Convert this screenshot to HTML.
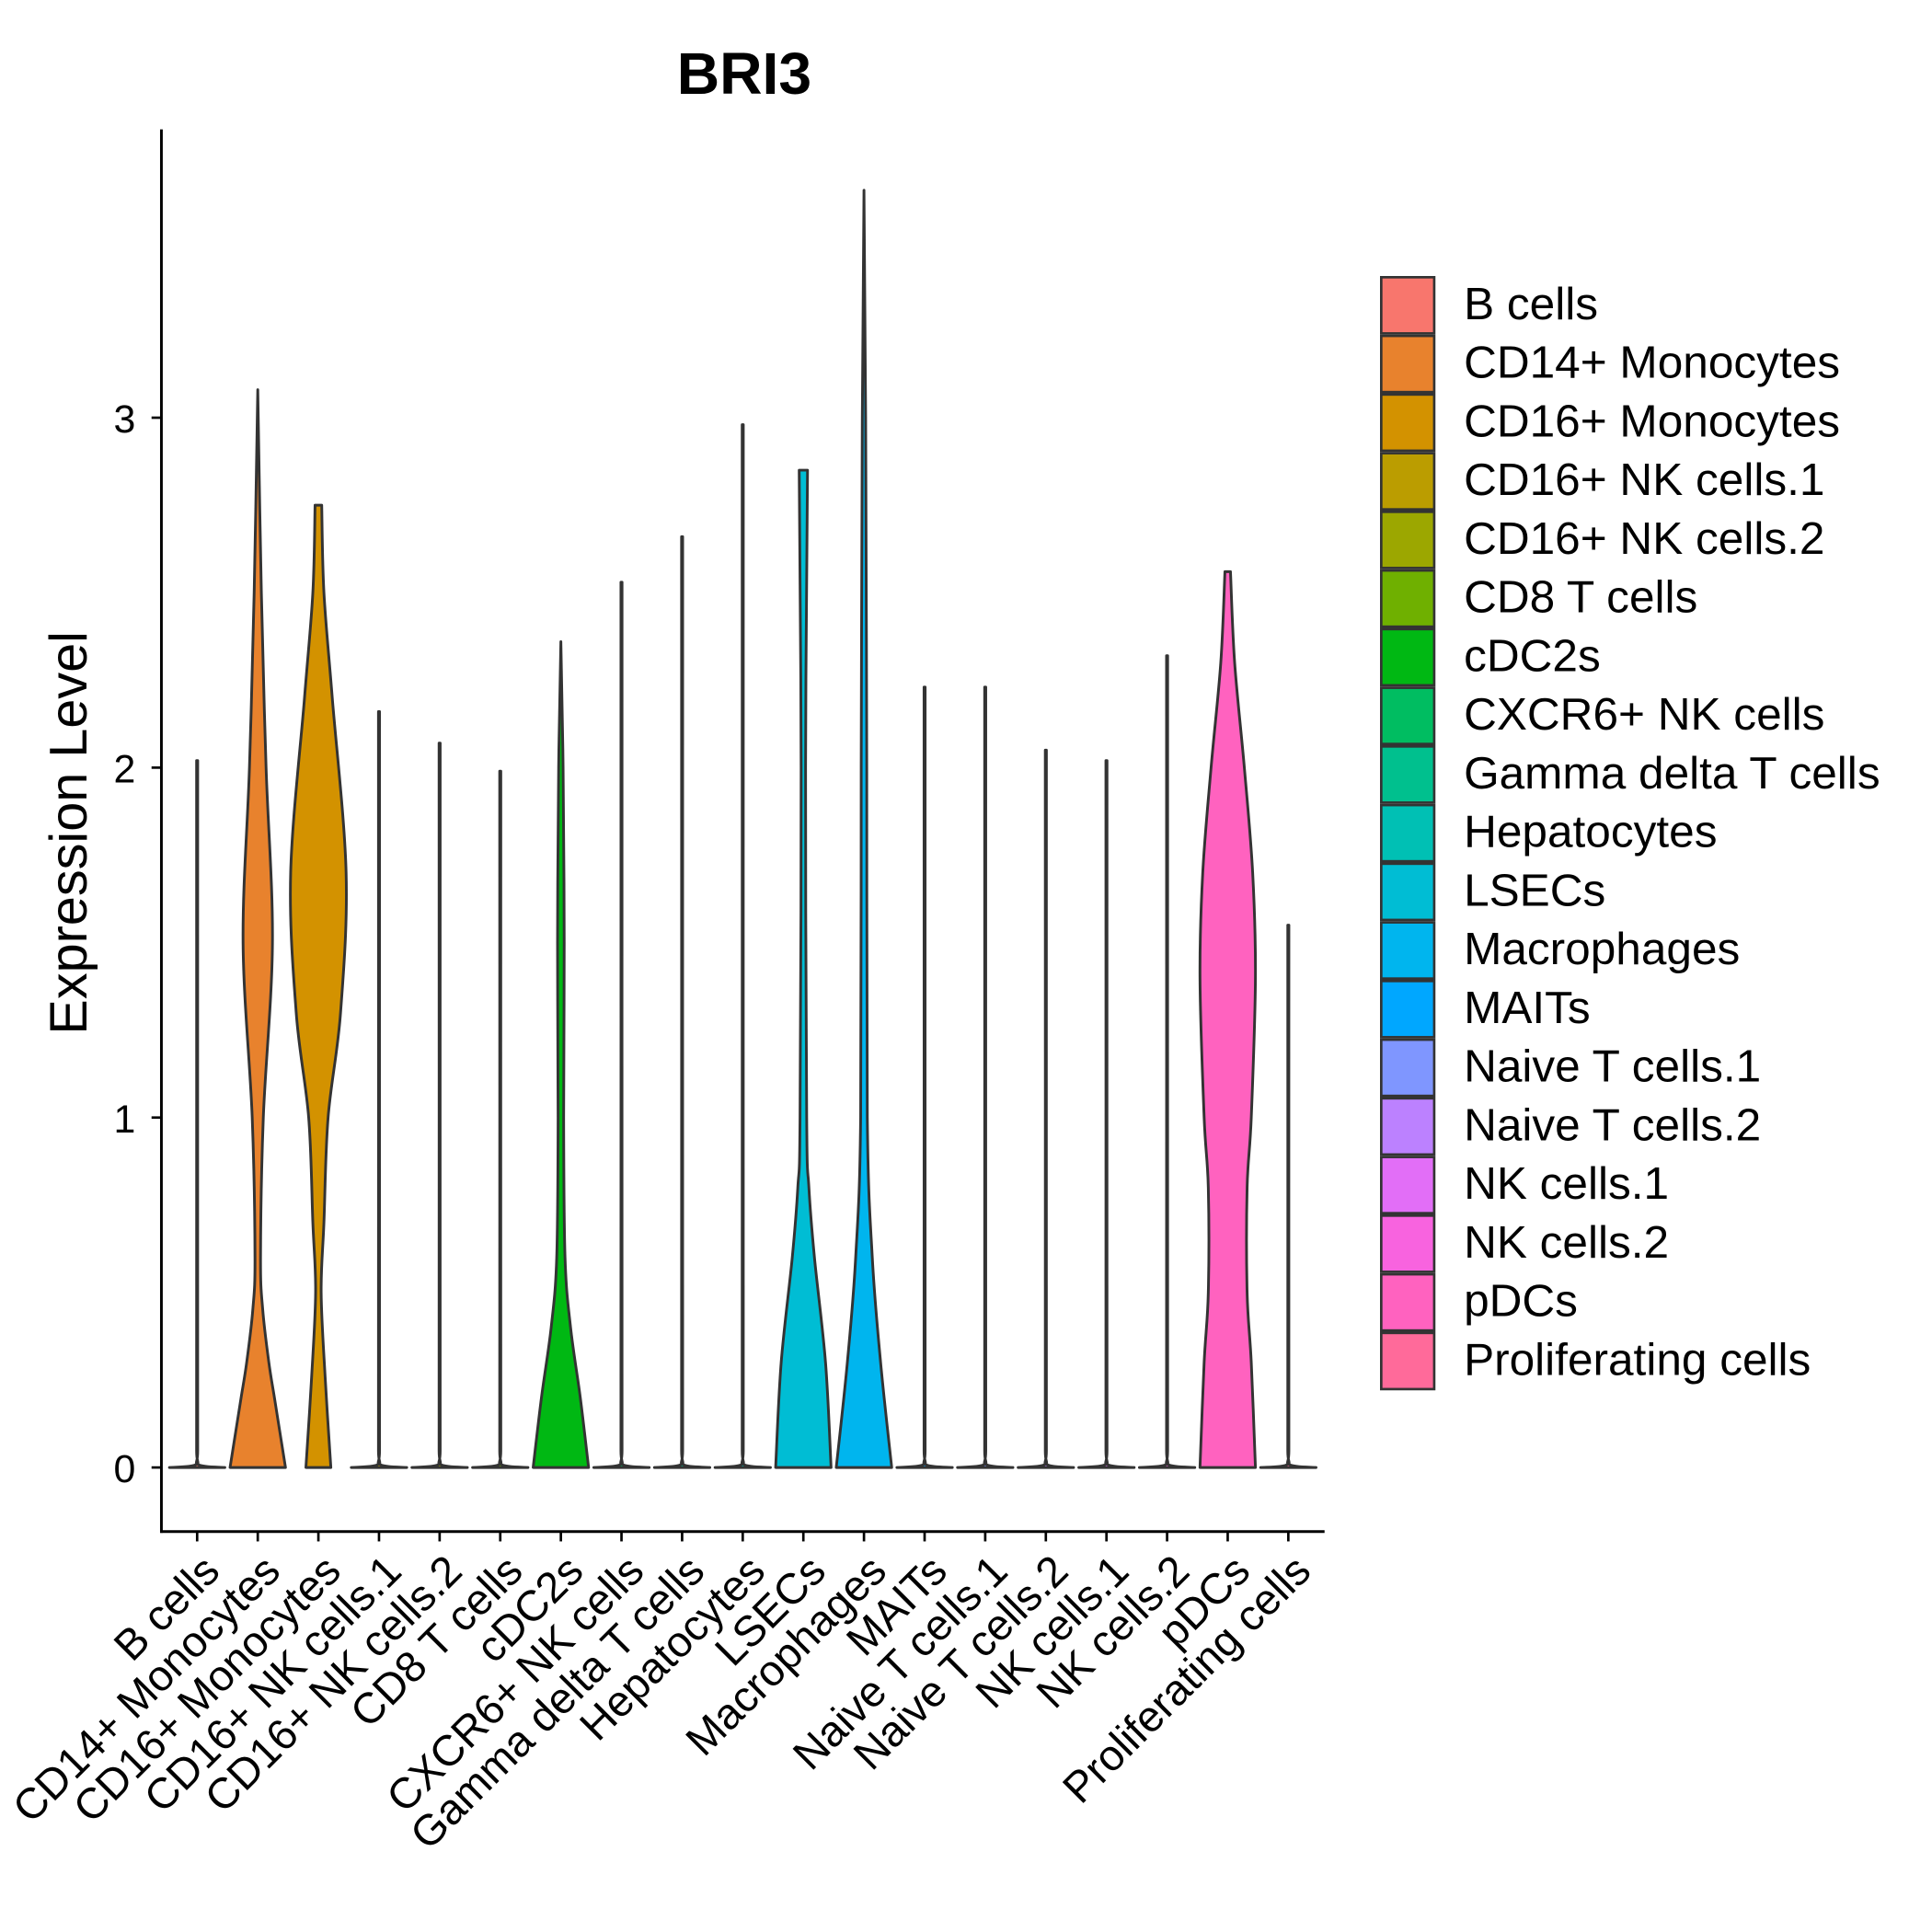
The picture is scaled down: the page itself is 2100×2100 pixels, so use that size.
<!DOCTYPE html>
<html><head><meta charset="utf-8"><style>
html,body{margin:0;padding:0;background:#fff}
svg{display:block;font-family:"Liberation Sans",Arial,sans-serif}
</style></head><body>
<svg id="chart" width="2100" height="2100" viewBox="0 0 1568 1568" xmlns="http://www.w3.org/2000/svg">
<text x="604" y="76" text-anchor="middle" font-size="48" font-weight="bold">BRI3</text>
<text transform="translate(70,676) rotate(-90)" text-anchor="middle" font-size="43">Expression Level</text>
<g id="plot"></g>
<g id="legend"></g>
</svg>
<script>
const categories=["B cells","CD14+ Monocytes","CD16+ Monocytes","CD16+ NK cells.1","CD16+ NK cells.2","CD8 T cells","cDC2s","CXCR6+ NK cells","Gamma delta T cells","Hepatocytes","LSECs","Macrophages","MAITs","Naive T cells.1","Naive T cells.2","NK cells.1","NK cells.2","pDCs","Proliferating cells"];
const colors=["#F8766D","#E8822D","#D39200","#BB9D00","#9CA700","#6FB000","#00B813","#00BD61","#00C08E","#00C0B4","#00BDD4","#00B5EE","#00A7FF","#7F96FF","#BC81FF","#E26EF7","#F863DF","#FF62BF","#FF6A9A"];
const maxValues=[2.02,3.08,2.75,2.16,2.07,1.99,2.36,2.53,2.66,2.98,2.85,3.65,2.23,2.23,2.05,2.02,2.32,2.56,1.55];
// density profiles: [value, relative half-width]
const profileMono14=[[0,1],[0.1,0.8],[0.2,0.6],[0.3,0.4],[0.45,0.18],[0.6,0.1],[1,0.2],[1.5,0.53],[2,0.3],[2.5,0.13],[3.08,0]];
const profileMono16=[[0,0.45],[0.25,0.25],[0.5,0.1],[0.7,0.2],[1,0.35],[1.3,0.8],[1.7,1],[2.2,0.5],[2.5,0.2],[2.75,0.12]];
const profileCDC2=[[0,1],[0.2,0.7],[0.4,0.35],[0.6,0.15],[1,0.1],[1.5,0.12],[2,0.08],[2.36,0]];
const profileLSEC=[[0,1],[0.3,0.8],[0.6,0.4],[0.8,0.2],[1,0.12],[2,0.08],[2.85,0.15]];
const profileMacro=[[0,1],[0.3,0.6],[0.6,0.3],[1,0.12],[2,0.1],[3,0.06],[3.65,0]];
const profilePDC=[[0,1],[0.3,0.85],[0.5,0.7],[0.8,0.7],[1,0.85],[1.4,1],[1.7,0.9],[2,0.6],[2.3,0.25],[2.56,0.1]];
const profileThin=[[0,1],[0.008,0.05],[0.05,0.02],[1,0.02]];
const profiles={1:profileMono14,2:profileMono16,6:profileCDC2,10:profileLSEC,11:profileMacro,17:profilePDC};
const yTicks=[0,1,2,3];

const NS="http://www.w3.org/2000/svg";
const X0=160,DX=49.2,HW=22.5;
const xScale=i=>X0+i*DX;
const yScale=v=>1191-v*284;
const plot=document.getElementById('plot');
function mk(tag,attrs,parent){const e=document.createElementNS(NS,tag);for(const k in attrs)e.setAttribute(k,attrs[k]);(parent||plot).appendChild(e);return e;}
function clamp(v,a,b){const lo=Math.min(a,b),hi=Math.max(a,b);return Math.max(lo,Math.min(hi,v));}
function segs(pts){let d="";for(let i=0;i<pts.length-1;i++){const p0=pts[i-1]||pts[i],p1=pts[i],p2=pts[i+1],p3=pts[i+2]||p2;
const c1=[p1[0]+(p2[0]-p0[0])/6,clamp(p1[1]+(p2[1]-p0[1])/6,p1[1],p2[1])],c2=[p2[0]-(p3[0]-p1[0])/6,clamp(p2[1]-(p3[1]-p1[1])/6,p1[1],p2[1])];
d+=" C"+c1[0]+","+c1[1]+" "+c2[0]+","+c2[1]+" "+p2[0]+","+p2[1];}return d;}
categories.forEach((c,i)=>{
  let prof=profiles[i];
  const mx=maxValues[i];
  if(!prof){prof=profileThin.map(p=>[p[0]===1?mx:p[0],p[1]]);}
  else{prof=prof.map((p,j)=>[j===prof.length-1?mx:p[0],p[1]]);}
  const cx=xScale(i);
  const right=prof.map(p=>[cx+p[1]*HW,yScale(p[0])]);
  const left=prof.slice().reverse().map(p=>[cx-p[1]*HW,yScale(p[0])]);
  let d="M"+right[0][0]+","+right[0][1]+segs(right)+" L"+left[0][0]+","+left[0][1]+segs(left)+" Z";
  const el=mk('path',{d:d,fill:colors[i],stroke:'#333',"stroke-width":2.2,"stroke-linejoin":"round"});
  
  
  const t=mk('line',{x1:cx,x2:cx,y1:1243,y2:1251,stroke:'#000',"stroke-width":2});
  
  
  const lb=mk('text',{transform:`translate(${cx+20},${1277}) rotate(-45)`,"text-anchor":"end","font-size":35,fill:'#000'});
  lb.textContent=c;
  
  
});
yTicks.forEach(v=>{
  const t=mk('line',{x1:123,x2:131,y1:yScale(v),y2:yScale(v),stroke:'#000',"stroke-width":2});
  
  
  const l=mk('text',{x:110,y:yScale(v)+12,"text-anchor":"end","font-size":32});
  l.textContent=v;
  
  
});
const ya=mk('line',{x1:131,x2:131,y1:105,y2:1244,stroke:'#000',"stroke-width":2.2});


const xa=mk('line',{x1:130,x2:1075,y1:1243,y2:1243,stroke:'#000',"stroke-width":2.2});


const lg=document.getElementById('legend');


categories.forEach((c,i)=>{
  const y=224+i*47.6;
  const r=mk('rect',{x:1121,y:y+1,width:43,height:45.6,fill:colors[i],stroke:'#333',"stroke-width":2},lg);
  
  
  const t=mk('text',{x:1188,y:y+35,"font-size":37},lg);
  t.textContent=c;
  
  
});
</script>
</body></html>
